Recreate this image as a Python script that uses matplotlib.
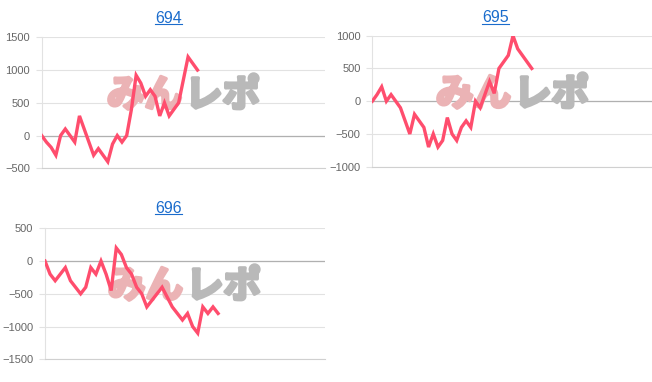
import matplotlib.pyplot as plt
from matplotlib.lines import Line2D
import matplotlib.patheffects as pe

plt.rcParams['font.family'] = ['Liberation Sans', 'DejaVu Sans']

# machine numbers and medal difference per point
titles = ['694', '695', '696']

diff_694 = [0, -100, -180, -300, 0, 100, 0, -100, 300, 100, -100, -300, -200, -300,
            -400, -130, 0, -100, 0, 400, 920, 800, 600, 700, 600, 300, 500, 300,
            400, 500, 850, 1200, 1100, 1000]
diff_695 = [0, 100, 220, 0, 100, 0, -100, -300, -500, -200, -300, -400, -700, -500,
            -700, -600, -250, -500, -600, -400, -300, -400, 0, -100, 100, 300, 120,
            500, 600, 700, 1000, 800, 700, 600, 500]
diff_696 = [0, -200, -300, -200, -100, -300, -400, -500, -400, -100, -200, 0, -200,
            -450, 200, 100, -100, -200, -400, -500, -700, -600, -500, -400, -550,
            -700, -800, -900, -800, -1000, -1100, -700, -800, -700, -800]

series = [diff_694, diff_695, diff_696]
x_max = [60, 60, 55]
y_limits = [(-500, 1500), (-1000, 1000), (-1500, 500)]

W, H = 652, 382
fig = plt.figure(figsize=(W / 100, H / 100), dpi=100)

# pixel boxes: left, top, right, bottom
boxes = [(41.7, 37.3, 325, 168.3), (372.3, 35.7, 653.7, 166.7), (45, 228.3, 325, 359.3)]
title_pos = [(168.5, 23), (495.5, 22.5), (168.5, 213)]
logo_pos = [(183, 95), (512, 94), (184, 286)]

line_color = '#ff4d6d'
grid_color = '#e2e2e2'

titles_txt = []
for i in range(3):
    l, t, r, b = boxes[i]
    ax = fig.add_axes([l / W, 1 - b / H, (r - l) / W, (b - t) / H])
    ys = series[i]
    ax.plot(range(len(ys)), ys, color=line_color, lw=2.4, solid_joinstyle='miter', zorder=3)
    ax.set_xlim(0, x_max[i])
    lo, hi = y_limits[i]
    ax.set_ylim(lo, hi)
    ax.set_yticks(range(lo, hi + 1, 500))
    ax.set_xticks([])
    ax.grid(axis='y', color=grid_color, lw=0.8)
    ax.axhline(0, color='#b0b0b0', lw=0.9, zorder=1)
    for s in ['top', 'right']:
        ax.spines[s].set_visible(False)
    ax.spines['left'].set_color(grid_color)
    ax.spines['bottom'].set_color('#d0d0d0')
    ax.tick_params(axis='y', length=4.5, width=0.8, color=grid_color, pad=4,
                   labelsize=8, labelcolor='#666666')
    ax.set_axisbelow(True)

    # watermark logo
    lx, ly = logo_pos[i]
    ax.text((lx - 1) / W, 1 - ly / H, 'みん', transform=fig.transFigure, ha='right',
            va='center', fontsize=27, fontweight='bold', color='#ebb3b5',
            family=['Noto Sans CJK JP'], zorder=2,
            path_effects=[pe.withStroke(linewidth=2.5, foreground='#ebb3b5')])
    ax.text((lx + 2) / W, 1 - ly / H, 'レポ', transform=fig.transFigure, ha='left',
            va='center', fontsize=27, fontweight='bold', color='#b9b9b9',
            family=['Noto Sans CJK JP'], zorder=2,
            path_effects=[pe.withStroke(linewidth=2.5, foreground='#b9b9b9')])

    tx, ty = title_pos[i]
    titles_txt.append(fig.text(tx / W, 1 - ty / H, titles[i], ha='center', va='baseline',
                               fontsize=11.5, color='#1a6ccc'))

# underline the titles like links
fig.canvas.draw()
for t in titles_txt:
    bb = t.get_window_extent()
    y = (bb.y0 + 2) / H
    fig.add_artist(Line2D([bb.x0 / W, bb.x1 / W], [y, y],
                          color='#1a6ccc', lw=0.8, transform=fig.transFigure))

fig.savefig('out.png', dpi=100)
